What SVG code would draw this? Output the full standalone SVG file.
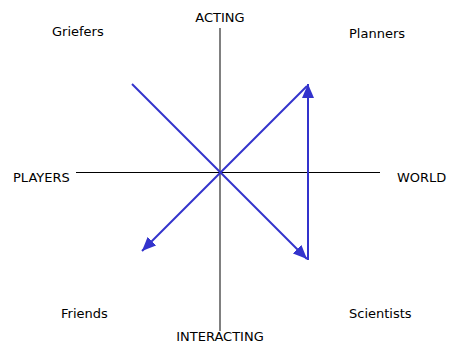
<svg xmlns="http://www.w3.org/2000/svg" width="450" height="343" viewBox="0 0 450 343">
<style>
text{font-family:"DejaVu Sans",Verdana,sans-serif;font-size:13px;fill:#000}
.ar{stroke:#3333cc;fill:none;stroke-width:2}
</style>
<defs>
<marker id="a" viewBox="0 0 14 12" refX="14" refY="6" markerWidth="14" markerHeight="12" markerUnits="userSpaceOnUse" orient="auto">
<path d="M0,0 L14,6 L0,12 z" fill="#3333cc"/>
</marker>
</defs>
<rect width="450" height="343" fill="#fff"/>
<g id="axes">
<line x1="76" y1="172.5" x2="380" y2="172.5" stroke="#000" stroke-width="1"/>
<line x1="220" y1="28" x2="220" y2="331" stroke="#808080" stroke-width="2"/>
</g>
<g id="connectors">
<line class="ar" x1="132" y1="84" x2="307" y2="259" marker-end="url(#a)"/>
<line class="ar" x1="307" y1="86" x2="142" y2="251" marker-end="url(#a)"/>
<line class="ar" x1="308" y1="260" x2="308" y2="84" stroke-width="2.5" marker-end="url(#a)"/>
</g>
<g id="labels">
<text id="acting" x="220" y="22" text-anchor="middle">ACTING</text>
<text id="interacting" x="220" y="341" text-anchor="middle">INTERACTING</text>
<text id="players" x="13" y="182">PLAYERS</text>
<text id="world" x="397" y="182">WORLD</text>
<text id="griefers" x="52" y="36">Griefers</text>
<text id="planners" x="349" y="38">Planners</text>
<text id="friends" x="61" y="318">Friends</text>
<text id="scientists" x="349" y="318">Scientists</text>
</g>
</svg>
